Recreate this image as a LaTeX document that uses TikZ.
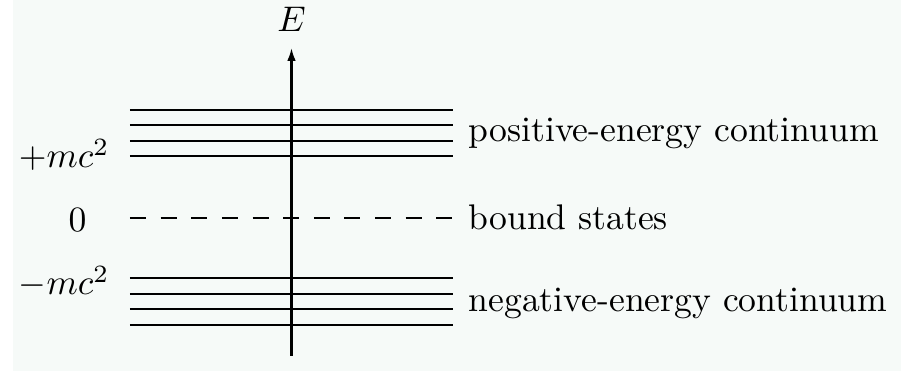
\documentclass[tikz,border=0pt]{standalone}
\usetikzlibrary{arrows.meta}
\definecolor{paper}{RGB}{246,250,248}
\tikzset{
  level/.style={line width=0.6pt},
  boundlevel/.style={line width=0.6pt,dash pattern=on 4.5pt off 4.1pt},
  lbl/.style={inner sep=0pt}
}
\begin{document}
\begin{tikzpicture}[x=0.2807pt,y=0.2807pt,line cap=butt,>={Latex[length=3.6pt,width=2.4pt]}]
  \useasboundingbox (0,0) rectangle (901,373);
  \fill[paper] (13,2) rectangle (901,373);
  % energy axis
  \coordinate (bot) at (291.5,17);
  \coordinate (top) at (291.5,325);
  \draw[line width=0.6pt,->] (bot) -- (top) node[above=1pt] (E) {$E$};
  % positive-energy levels
  \draw[level] (130,263) -- (453,263);
  \draw[level] (130,247.7) -- (453,247.7);
  \draw[level] (130,232.3) -- (453,232.3);
  \draw[level] (130,217) -- (453,217);
  % bound states
  \draw[boundlevel] (130,154.7) -- (453,154.7);
  % negative-energy levels
  \draw[level] (130,94.7) -- (453,94.7);
  \draw[level] (130,79.3) -- (453,79.3);
  \draw[level] (130,64) -- (453,64);
  \draw[level] (130,48.3) -- (453,48.3);
  % energy values
  \node[lbl,anchor=base east] (plus) at (110,205) {$+mc^2$};
  \node[lbl,anchor=base] (zero) at (77.5,141.3) {$0$};
  \node[lbl,anchor=base east] (minus) at (110,78) {$-mc^2$};
  % region names
  \node[lbl,anchor=base west] (pos) at (468,231.3) {positive-energy continuum};
  \node[lbl,anchor=base west] (bound) at (468,143) {bound states};
  \node[lbl,anchor=base west] (neg) at (468,61.3) {negative-energy continuum};
\end{tikzpicture}
\end{document}
